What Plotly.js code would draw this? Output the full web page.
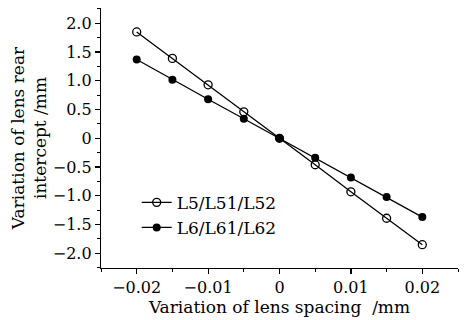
<!DOCTYPE html>
<html>
<head>
<meta charset="utf-8">
<script src="https://cdn.plot.ly/plotly-3.0.1.min.js"></script>
<style>html,body{margin:0;padding:0;background:#fff;}#chart{width:465px;height:320px;}</style>
</head>
<body>
<div id="chart"></div>
<script>
const spacing = [-0.02, -0.015, -0.01, -0.005, 0, 0.005, 0.01, 0.015, 0.02];
const seriesL5 = [1.85, 1.39, 0.93, 0.46, 0, -0.46, -0.93, -1.39, -1.85];
const seriesL6 = [1.37, 1.02, 0.68, 0.34, 0, -0.34, -0.68, -1.02, -1.37];
const nameL5 = 'L5/L51/L52';
const nameL6 = 'L6/L61/L62';
const xTickVals = [-0.02, -0.01, 0, 0.01, 0.02];
const xTickText = ['\u22120.02', '\u22120.01', '0', '0.01', '0.02'];
const yTickVals = [2.0, 1.5, 1.0, 0.5, 0, -0.5, -1.0, -1.5, -2.0];
const yTickText = ['2.0', '1.5', '1.0', '0.5', '0', '\u22120.5', '\u22121.0', '\u22121.5', '\u22122.0'];

const font = 'DejaVu Serif, Liberation Serif, serif';

const traces = [
  {x: spacing, y: seriesL5, name: nameL5, mode: 'lines+markers', type: 'scatter',
   line: {color: '#000', width: 1.3},
   marker: {symbol: 'circle-open', size: 8, color: '#000', line: {width: 1.3, color: '#000'}}},
  {x: spacing, y: seriesL6, name: nameL6, mode: 'lines+markers', type: 'scatter',
   line: {color: '#000', width: 1.3},
   marker: {symbol: 'circle', size: 8, color: '#000'}}
];

const layout = {
  width: 465, height: 320,
  margin: {l: 101, r: 7, t: 8, b: 52},
  paper_bgcolor: '#fff', plot_bgcolor: '#fff',
  font: {family: font, size: 17, color: '#000'},
  showlegend: true,
  legend: {x: 0.10, y: 0.32, xanchor: 'left', yanchor: 'top', bgcolor: 'rgba(0,0,0,0)',
           font: {family: font, size: 17, color: '#000'}, tracegroupgap: 0, itemwidth: 30},
  xaxis: {
    range: [-0.025, 0.025], tickvals: xTickVals, ticktext: xTickText,
    showgrid: false, zeroline: false, showline: true, linecolor: '#000', linewidth: 1.2,
    ticks: 'outside', ticklen: 5, tickwidth: 1.2, tickcolor: '#000',
    minor: {ticks: 'outside', dtick: 0.005, tick0: 0, ticklen: 3, tickwidth: 1, tickcolor: '#000', showgrid: false},
    tickfont: {family: font, size: 16},
    title: {text: 'Variation of lens spacing  /mm', font: {family: font, size: 17}, standoff: 0}
  },
  yaxis: {
    range: [-2.255, 2.266], tickvals: yTickVals, ticktext: yTickText,
    showgrid: false, zeroline: false, showline: true, linecolor: '#000', linewidth: 1.2,
    ticks: 'outside', ticklen: 5, tickwidth: 1.2, tickcolor: '#000',
    minor: {ticks: 'outside', dtick: 0.25, tick0: 0, ticklen: 3, tickwidth: 1, tickcolor: '#000', showgrid: false},
    tickfont: {family: font, size: 16},
    title: {text: 'Variation of lens rear<br>intercept /mm', font: {family: font, size: 17}, standoff: 1}
  }
};

Plotly.newPlot('chart', traces, layout, {displayModeBar: false, staticPlot: true});
</script>
</body>
</html>
